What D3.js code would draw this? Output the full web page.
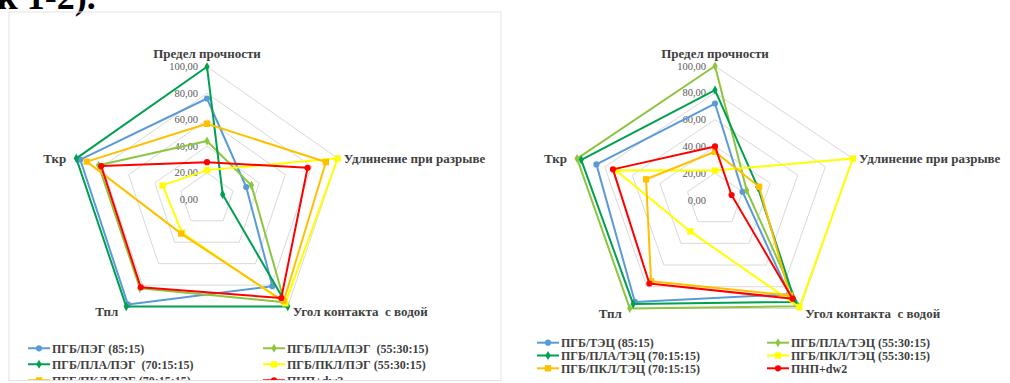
<!DOCTYPE html>
<html><head><meta charset="utf-8">
<script src="https://cdn.jsdelivr.net/npm/d3@7/dist/d3.min.js"></script>
<style>
html,body{margin:0;padding:0;background:#fff;}
svg{display:block;}
text{white-space:pre;}
.axl{font-family:"Liberation Serif","Times New Roman",serif;font-weight:bold;font-size:13px;fill:#404040;}
.tkl{font-family:"Liberation Serif","Times New Roman",serif;font-size:10.5px;fill:#595959;}
.lgt{font-family:"Liberation Serif","Times New Roman",serif;font-weight:bold;font-size:12px;fill:#404040;}
</style></head>
<body>
<svg id="c" width="1010" height="383"></svg>
<script>
// ---- data ----
const axesNames = ["Предел прочности", "Удлинение при разрыве", "Угол контакта  с водой", "Тпл", "Ткр"];
const tickValues = [0, 20, 40, 60, 80, 100];
const tickLabels = ["0,00", "20,00", "40,00", "60,00", "80,00", "100,00"];

// left chart (ПЭГ)
const leftNames = ["ПГБ/ПЭГ (85:15)", "ПГБ/ПЛА/ПЭГ  (55:30:15)", "ПГБ/ПЛА/ПЭГ  (70:15:15)", "ПГБ/ПКЛ/ПЭГ (55:30:15)", "ПГБ/ПКЛ/ПЭГ (70:15:15)", "ПНП+dw2"];
const leftPEG_85_15      = [76, 30, 81, 98, 97];
const leftPLA_55_30_15   = [44, 34, 96, 83, 83];
const leftPLA_70_15_15   = [100, 12, 100, 100, 100];
const leftPCL_55_30_15   = [22, 100, 97, 31, 34];
const leftPCL_70_15_15   = [57, 91, 95, 32, 92];
const leftPNP_dw2        = [28, 77, 92, 82, 81];

// right chart (ТЭЦ)
const rightNames = ["ПГБ/ТЭЦ (85:15)", "ПГБ/ПЛА/ТЭЦ (55:30:15)", "ПГБ/ПЛА/ТЭЦ (70:15:15)", "ПГБ/ПКЛ/ТЭЦ (55:30:15)", "ПГБ/ПКЛ/ТЭЦ (70:15:15)", "ПНП+dw2"];
const rightTEC_85_15     = [72, 20, 87, 94, 86];
const rightPLA_55_30_15  = [100, 23, 98, 100, 100];
const rightPLA_70_15_15  = [82, 31, 94, 96, 97];
const rightPCL_55_30_15  = [22, 100, 99, 29, 72];
const rightPCL_70_15_15  = [36, 32, 88, 75, 50];
const rightPNP_dw2       = [40, 12, 91, 77, 74];

const seriesColors = ["#5b9bd5", "#8cc63f", "#00a050", "#ffff00", "#ffc000", "#ff0000"];
const seriesMarkers = ["circle", "diamond", "diamond", "square", "square", "circle"];

// ---- drawing ----
const svg = d3.select("#c");

// cut-off heading text at top-left (cropped in the reference)
svg.append("text").attr("x", -3).attr("y", 9)
  .style("font-family", '"Liberation Serif","Times New Roman",serif')
  .style("font-weight", "bold").style("font-size", "36px").attr("fill", "#000")
  .text("к 1-2).");

function drawRadar(cfg, names, data) {
  const g = svg.append("g");
  if (cfg.clip) {
    const id = "clip" + cfg.id;
    svg.append("clipPath").attr("id", id).append("rect")
      .attr("x", cfg.clip[0]).attr("y", cfg.clip[1]).attr("width", cfg.clip[2]).attr("height", cfg.clip[3]);
    g.attr("clip-path", `url(#${id})`);
    svg.append("rect").attr("x", cfg.clip[0]).attr("y", cfg.clip[1]).attr("width", cfg.clip[2]).attr("height", cfg.clip[3])
      .attr("fill", "none").attr("stroke", "#e4e4e4").attr("stroke-width", 1);
  }
  const n = axesNames.length;
  const ang = d3.scaleLinear().domain([0, n]).range([-Math.PI / 2, 1.5 * Math.PI]);
  const xs = d3.scaleLinear().domain([-100, 100]).range([cfg.cx - cfg.rx, cfg.cx + cfg.rx]);
  const ys = d3.scaleLinear().domain([-100, 100]).range([cfg.cy - cfg.ry, cfg.cy + cfg.ry]);
  const px = (v, i) => xs(v * Math.cos(ang(i)));
  const py = (v, i) => ys(v * Math.sin(ang(i)));
  const closed = d3.line().x(d => d[0]).y(d => d[1]).curve(d3.curveLinearClosed);

  // grid rings
  tickValues.filter(t => t > 0).forEach(t => {
    g.append("path").attr("d", closed(d3.range(n).map(i => [px(t, i), py(t, i)])))
      .attr("fill", "none").attr("stroke", "#d9d9d9").attr("stroke-width", 1);
  });
  // tick labels
  tickValues.forEach((t, k) => {
    g.append("text").attr("class", "tkl").attr("x", cfg.cx - 9).attr("y", py(t, 0))
      .attr("dy", "0.35em").attr("text-anchor", "end").text(tickLabels[k]);
  });
  // axis labels
  const lo = [
    { dx: 0, dy: -13, a: "middle" },
    { dx: 6, dy: 0, a: "start" },
    { dx: 5, dy: 5, a: "start" },
    { dx: -8, dy: 5, a: "end" },
    { dx: -10, dy: 0, a: "end" }
  ];
  axesNames.forEach((name, i) => {
    g.append("text").attr("class", "axl").attr("xml:space", "preserve")
      .attr("x", px(100, i) + lo[i].dx).attr("y", py(100, i) + lo[i].dy)
      .attr("dy", "0.35em").attr("text-anchor", lo[i].a).text(name);
  });

  const sym = {
    circle: d3.symbol().type(d3.symbolCircle).size(30),
    diamond: d3.symbol().type(d3.symbolDiamond).size(24),
    square: d3.symbol().type(d3.symbolSquare).size(40)
  };
  // series
  data.forEach((vals, s) => {
    const pts = vals.map((v, i) => [px(v, i), py(v, i)]);
    g.append("path").attr("d", closed(pts)).attr("fill", "none")
      .attr("stroke", seriesColors[s]).attr("stroke-width", 2).attr("stroke-linejoin", "round");
    pts.forEach(p => {
      g.append("path").attr("d", sym[seriesMarkers[s]]()).attr("transform", `translate(${p[0]},${p[1]})`)
        .attr("fill", seriesColors[s]);
    });
  });

  // legend
  names.forEach((name, s) => {
    const col = s % 2, row = Math.floor(s / 2);
    const lx = cfg.legX[col], ly = cfg.legY + row * cfg.legDy;
    g.append("line").attr("x1", lx).attr("x2", lx + 22).attr("y1", ly).attr("y2", ly)
      .attr("stroke", seriesColors[s]).attr("stroke-width", 2);
    g.append("path").attr("d", sym[seriesMarkers[s]]()).attr("transform", `translate(${lx + 11},${ly})`)
      .attr("fill", seriesColors[s]);
    g.append("text").attr("class", "lgt").attr("xml:space", "preserve")
      .attr("x", lx + 24).attr("y", ly).attr("dy", "0.35em").text(name);
  });
}

drawRadar({ id: "L", cx: 207, cy: 199.3, rx: 137.4, ry: 132.6, clip: [9, 12, 492, 368.5],
  legX: [28, 263], legY: 348.3, legDy: 16 },
  leftNames, [leftPEG_85_15, leftPLA_55_30_15, leftPLA_70_15_15, leftPCL_55_30_15, leftPCL_70_15_15, leftPNP_dw2]);

drawRadar({ id: "R", cx: 715, cy: 200, rx: 145, ry: 134,
  legX: [537, 767], legY: 342.7, legDy: 12.8 },
  rightNames, [rightTEC_85_15, rightPLA_55_30_15, rightPLA_70_15_15, rightPCL_55_30_15, rightPCL_70_15_15, rightPNP_dw2]);
</script>
</body></html>
